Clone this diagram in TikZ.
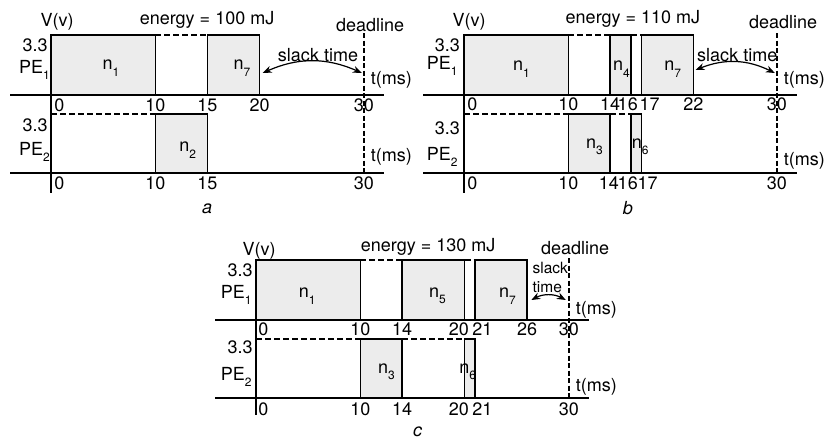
\documentclass[tikz,border=0pt]{standalone}
\usepackage{fontspec}
\setmainfont{TeX Gyre Heros}
\usetikzlibrary{arrows.meta}
\newcommand{\sub}[1]{\raisebox{-0.35em}{\fontsize{12}{12}\selectfont #1}}
\tikzset{
    task/.style={draw, line width=1.5pt, fill=gray!15},
    idle/.style={line width=1.5pt, dash pattern=on 6pt off 3pt},
    axisline/.style={line width=1.5pt},
    deadline/.style={line width=1.6pt, dash pattern=on 5pt off 2.5pt},
    slack/.style={{Stealth[length=9pt,width=7pt]}-{Stealth[length=9pt,width=7pt]}, line width=1.2pt},
    lbl/.style={inner sep=0pt, font=\fontsize{18}{20}\selectfont},
    panel/.style={inner sep=0pt, font=\fontsize{18}{20}\selectfont\itshape},
}

\begin{document}
\begin{tikzpicture}
\useasboundingbox (0pt,0pt) rectangle (825pt,-439pt);

% (a) energy = 100 mJ
\begin{scope}[shift={(51pt,0pt)}, x=10.43pt, y=-1pt]
    \foreach \s/\e in {10/15} \draw[idle] (\s,35) -- (\e,35);
    \foreach \s/\e in {0/10} \draw[idle] (\s,114) -- (\e,114);
    \foreach \s/\e/\n/\m in {0/10/1/5.75, 15/20/7/18.3} {
        \draw[task] (\s,35) rectangle (\e,95);
        \node[lbl] (a-n\n) at (\m,68) {n\sub{\n}};
    }
    \foreach \s/\e/\n/\m in {10/15/2/13.1} {
        \draw[task] (\s,114) rectangle (\e,173);
        \node[lbl] (a-n\n) at (\m,150) {n\sub{\n}};
    }
    \draw[axisline] (-3.9,95) -- (31.9,95);
    \draw[axisline] (-3.9,173) -- (31.9,173);
    \draw[axisline] (0,35) -- (0,193);
    \draw[deadline] (30,33) -- (30,173);
    \node[lbl] (a-t0) at (0.8,105) {0};
    \foreach \t in {10,15,20,30} \node[lbl] (a-t\t) at (\t,105) {\t};
    \node[lbl] (a-b0) at (0.8,183) {0};
    \foreach \t in {10,15,30} \node[lbl] (a-b\t) at (\t,183) {\t};
    \node[lbl] (a-v) at (0.58,22) {V(v)};
    \node[lbl] (a-energy) at (14.96,20) {energy = 100 mJ};
    \node[lbl] (a-dl) at (30.6,25) {deadline};
    \node[lbl, anchor=east] (a-u1) at (-0.3,45) {3.3};
    \node[lbl, anchor=east] (a-pe1) at (-0.1,70) {PE\sub{1}};
    \node[lbl, anchor=east] (a-u2) at (-0.3,125) {3.3};
    \node[lbl, anchor=east] (a-pe2) at (-0.1,152) {PE\sub{2}};
    \node[lbl, anchor=west] (a-ms1) at (30.65,80) {t(ms)};
    \node[lbl, anchor=west] (a-ms2) at (30.65,157) {t(ms)};
    \node[lbl] (a-slack) at (25.6,55) {slack time};
    \coordinate (a-s1) at (20.3,73);
    \coordinate (a-s2) at (29.8,73);
    \draw[slack] (a-s1) to[bend left=24] (a-s2);
    \node[panel] (a-cap) at (14.96,209) {a};
\end{scope}

% (b) energy = 110 mJ
\begin{scope}[shift={(464pt,0pt)}, x=10.43pt, y=-1pt]
    \foreach \s/\e in {10/14, 16/17} \draw[idle] (\s,35) -- (\e,35);
    \foreach \s/\e in {0/10, 14/16} \draw[idle] (\s,114) -- (\e,114);
    \foreach \s/\e/\n/\m in {0/10/1/5.5, 14/16/4/15.1, 17/22/7/20.0} {
        \draw[task] (\s,35) rectangle (\e,95);
        \node[lbl] (b-n\n) at (\m,69) {n\sub{\n}};
    }
    \foreach \s/\e/\n/\m in {10/14/3/12.5, 16/17/6/16.9} {
        \draw[task] (\s,114) rectangle (\e,173);
        \node[lbl] (b-n\n) at (\m,147) {n\sub{\n}};
    }
    \draw[axisline] (-3.9,95) -- (31.9,95);
    \draw[axisline] (-3.9,173) -- (31.9,173);
    \draw[axisline] (0,35) -- (0,193);
    \draw[deadline] (30,33) -- (30,173);
    \node[lbl] (b-t0) at (0.8,104) {0};
    \foreach \t/\p in {10/10, 14/14, 16/15.7, 17/17.8, 22/22, 30/30} \node[lbl] (b-t\t) at (\p,104) {\t};
    \node[lbl] (b-b0) at (0.8,183) {0};
    \foreach \t/\p in {10/10, 14/13.9, 16/15.7, 17/17.6, 30/30} \node[lbl] (b-b\t) at (\p,183) {\t};
    \node[lbl] (b-v) at (0.48,22) {V(v)};
    \node[lbl] (b-energy) at (16.2,19) {energy = 110 mJ};
    \node[lbl] (b-dl) at (30.6,22) {deadline};
    \node[lbl, anchor=east] (b-u1) at (-0.38,45) {3.3};
    \node[lbl, anchor=east] (b-pe1) at (-0.6,66) {PE\sub{1}};
    \node[lbl, anchor=east] (b-u2) at (-0.38,128) {3.3};
    \node[lbl, anchor=east] (b-pe2) at (-0.6,157) {PE\sub{2}};
    \node[lbl, anchor=west] (b-ms1) at (30.65,80) {t(ms)};
    \node[lbl, anchor=west] (b-ms2) at (30.65,161) {t(ms)};
    \node[lbl] (b-slack) at (26.2,55) {slack time};
    \coordinate (b-s1) at (22.2,70);
    \coordinate (b-s2) at (29.8,73);
    \draw[slack] (b-s1) to[bend left=24] (b-s2);
    \node[panel] (b-cap) at (15.7,208) {b};
\end{scope}

% (c) energy = 130 mJ
\begin{scope}[shift={(256pt,-225pt)}, x=10.43pt, y=-1pt]
    \foreach \s/\e in {10/14, 20/21} \draw[idle] (\s,35) -- (\e,35);
    \foreach \s/\e in {0/10, 14/20} \draw[idle] (\s,114) -- (\e,114);
    \foreach \s/\e/\n/\m in {0/10/1/4.9, 14/20/5/17.4, 21/26/7/24.1} {
        \draw[task] (\s,35) rectangle (\e,95);
        \node[lbl] (c-n\n) at (\m,71) {n\sub{\n}};
    }
    \foreach \s/\e/\n/\m in {10/14/3/12.5, 20/21/6/20.3} {
        \draw[task] (\s,114) rectangle (\e,173);
        \node[lbl] (c-n\n) at (\m,147) {n\sub{\n}};
    }
    \draw[axisline] (-3.9,95) -- (31.9,95);
    \draw[axisline] (-3.9,173) -- (31.9,173);
    \draw[axisline] (0,35) -- (0,190);
    \draw[deadline] (30,33) -- (30,173);
    \node[lbl] (c-t0) at (0.7,104) {0};
    \foreach \t/\p in {10/10, 14/14, 20/19.45, 21/21.7, 26/26, 30/30} \node[lbl] (c-t\t) at (\p,104) {\t};
    \node[lbl] (c-b0) at (0.7,184) {0};
    \foreach \t/\p in {10/10, 14/14, 20/19.45, 21/21.7, 30/30} \node[lbl] (c-b\t) at (\p,184) {\t};
    \node[lbl] (c-v) at (0.3,26) {V(v)};
    \node[lbl] (c-energy) at (16.5,22) {energy = 130 mJ};
    \node[lbl] (c-dl) at (30.6,23) {deadline};
    \node[lbl, anchor=east] (c-u1) at (-0.3,45) {3.3};
    \node[lbl, anchor=east] (c-pe1) at (-0.4,70) {PE\sub{1}};
    \node[lbl, anchor=east] (c-u2) at (-0.3,122) {3.3};
    \node[lbl, anchor=east] (c-pe2) at (-0.4,152) {PE\sub{2}};
    \node[lbl, anchor=west] (c-ms1) at (30.65,85) {t(ms)};
    \node[lbl, anchor=west] (c-ms2) at (30.65,162) {t(ms)};
    \node[lbl, anchor=west, align=left, font=\fontsize{15.5}{19}\selectfont] (c-slack) at (26.5,52) {slack\\time};
    \coordinate (c-s1) at (26.4,75);
    \coordinate (c-s2) at (29.7,75);
    \draw[slack] (c-s1) to[bend left=28] (c-s2);
    \node[panel] (c-cap) at (15.5,207) {c};
\end{scope}
\end{tikzpicture}
\end{document}
